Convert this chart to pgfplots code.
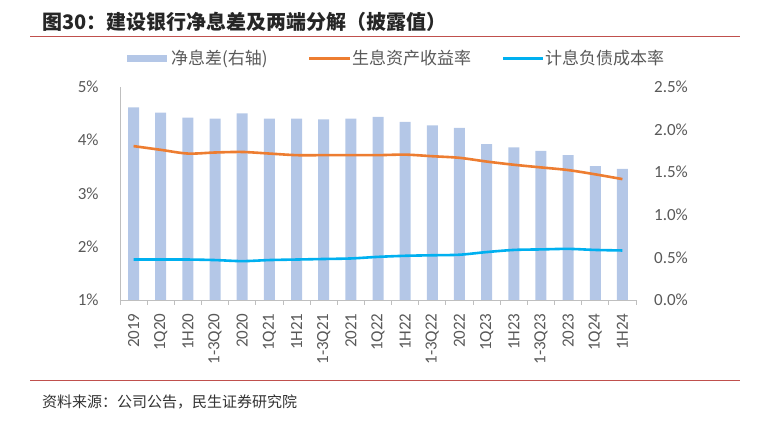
\documentclass[border=0pt]{standalone}
\usepackage{fontspec}
\usepackage{pgfplots}
\usepackage{pgfplotstable}
\pgfplotsset{compat=1.18}
\setmainfont{Carlito}
\newfontfamily\cjk{Noto Sans CJK SC}

\definecolor{barblue}{HTML}{B4C7E7}
\definecolor{lineorange}{HTML}{ED7D31}
\definecolor{lineblue}{HTML}{00B0F0}
\definecolor{txtgray}{HTML}{595959}
\definecolor{axgray}{HTML}{BFBFBF}
\definecolor{rulered}{HTML}{C0504D}

% nim on right axis, yield/cost on left axis (%)
\pgfplotstableread{
x  nim   yield  cost
0  2.26  3.89   1.76
1  2.20  3.82   1.76
2  2.14  3.75   1.76
3  2.13  3.77   1.75
4  2.19  3.78   1.73
5  2.13  3.75   1.75
6  2.13  3.72   1.76
7  2.12  3.72   1.77
8  2.13  3.72   1.78
9  2.15  3.72   1.81
10 2.09  3.73   1.83
11 2.05  3.70   1.84
12 2.02  3.67   1.85
13 1.83  3.60   1.90
14 1.79  3.54   1.94
15 1.75  3.49   1.95
16 1.70  3.44   1.96
17 1.57  3.36   1.94
18 1.54  3.27   1.93
}\datatable

\begin{document}
\begin{tikzpicture}[x=1pt,y=1pt]
\path[use as bounding box] (0,0) rectangle (769,425);

% header
\node[anchor=west, inner sep=0pt, font=\cjk\bfseries\fontsize{20}{24}\selectfont, text=black!85] at (42,403) {图30：建设银行净息差及两端分解（披露值）};
\draw[rulered, line width=1.3pt] (30,388.5) -- (740,388.5);

% legend
\fill[barblue] (127,363) rectangle (167,370);
\node[anchor=west, inner sep=0pt, font=\cjk\fontsize{17}{20}\selectfont, text=txtgray] at (171,366.5) {净息差(右轴)};
\draw[lineorange, line width=2.6pt] (309,366.5) -- (350,366.5);
\node[anchor=west, inner sep=0pt, font=\cjk\fontsize{17}{20}\selectfont, text=txtgray] at (352,366.5) {生息资产收益率};
\draw[lineblue, line width=2.6pt] (503,366.5) -- (543,366.5);
\node[anchor=west, inner sep=0pt, font=\cjk\fontsize{17}{20}\selectfont, text=txtgray] at (545,366.5) {计息负债成本率};

% right axis: bars
\begin{axis}[
  at={(120pt,125pt)}, anchor=south west,
  scale only axis, width=516pt, height=213pt,
  xmin=-0.5, xmax=18.5, ymin=0, ymax=2.5,
  hide x axis,
  axis y line*=right,
  y axis line style={draw=none},
  ytick={0,0.5,...,2.5},
  major tick length=0pt,
  yticklabel={\pgfmathprintnumber[fixed,fixed zerofill,precision=1]{\tick}\%},
  yticklabel style={anchor=west, inner xsep=0pt, xshift=18pt, font=\fontsize{17}{20}\selectfont, text=txtgray},
  /pgf/number format/assume math mode=true,
]
\addplot[ybar, bar width=11pt, fill=barblue, draw=none] table[x=x, y=nim] {\datatable};
\end{axis}

% left axis: lines
\begin{axis}[
  at={(120pt,125pt)}, anchor=south west,
  scale only axis, width=516pt, height=213pt,
  xmin=-0.5, xmax=18.5, ymin=1, ymax=5,
  axis x line*=bottom, axis y line*=left,
  axis line style={axgray, line width=0.8pt},
  xtick={0,...,18},
  xticklabels={2019,1Q20,1H20,1-3Q20,2020,1Q21,1H21,1-3Q21,2021,1Q22,1H22,1-3Q22,2022,1Q23,1H23,1-3Q23,2023,1Q24,1H24},
  x tick label style={rotate=90, anchor=east, inner sep=0pt, xshift=-9pt, font=\fontsize{17}{20}\selectfont, text=txtgray},
  major x tick style={draw=none},
  minor xtick={-0.5,0.5,...,18.5},
  minor tick length=5pt,
  tick align=outside,
  minor x tick style={axgray, line width=0.8pt},
  ytick={1,2,3,4,5},
  major y tick style={draw=none},
  yticklabel={\pgfmathprintnumber{\tick}\%},
  yticklabel style={anchor=east, inner xsep=0pt, xshift=-17pt, font=\fontsize{17}{20}\selectfont, text=txtgray},
  /pgf/number format/assume math mode=true,
]
\addplot[lineorange, line width=2.6pt, smooth, no markers] table[x=x, y=yield] {\datatable};
\addplot[lineblue, line width=2.6pt, smooth, no markers] table[x=x, y=cost] {\datatable};
\end{axis}

% footer
\draw[rulered, line width=1.3pt] (30,44.5) -- (740,44.5);
\node[anchor=west, inner sep=0pt, font=\cjk\fontsize{15}{18}\selectfont, text=black!80] at (42,23) {资料来源：公司公告，民生证券研究院};
\end{tikzpicture}
\end{document}
